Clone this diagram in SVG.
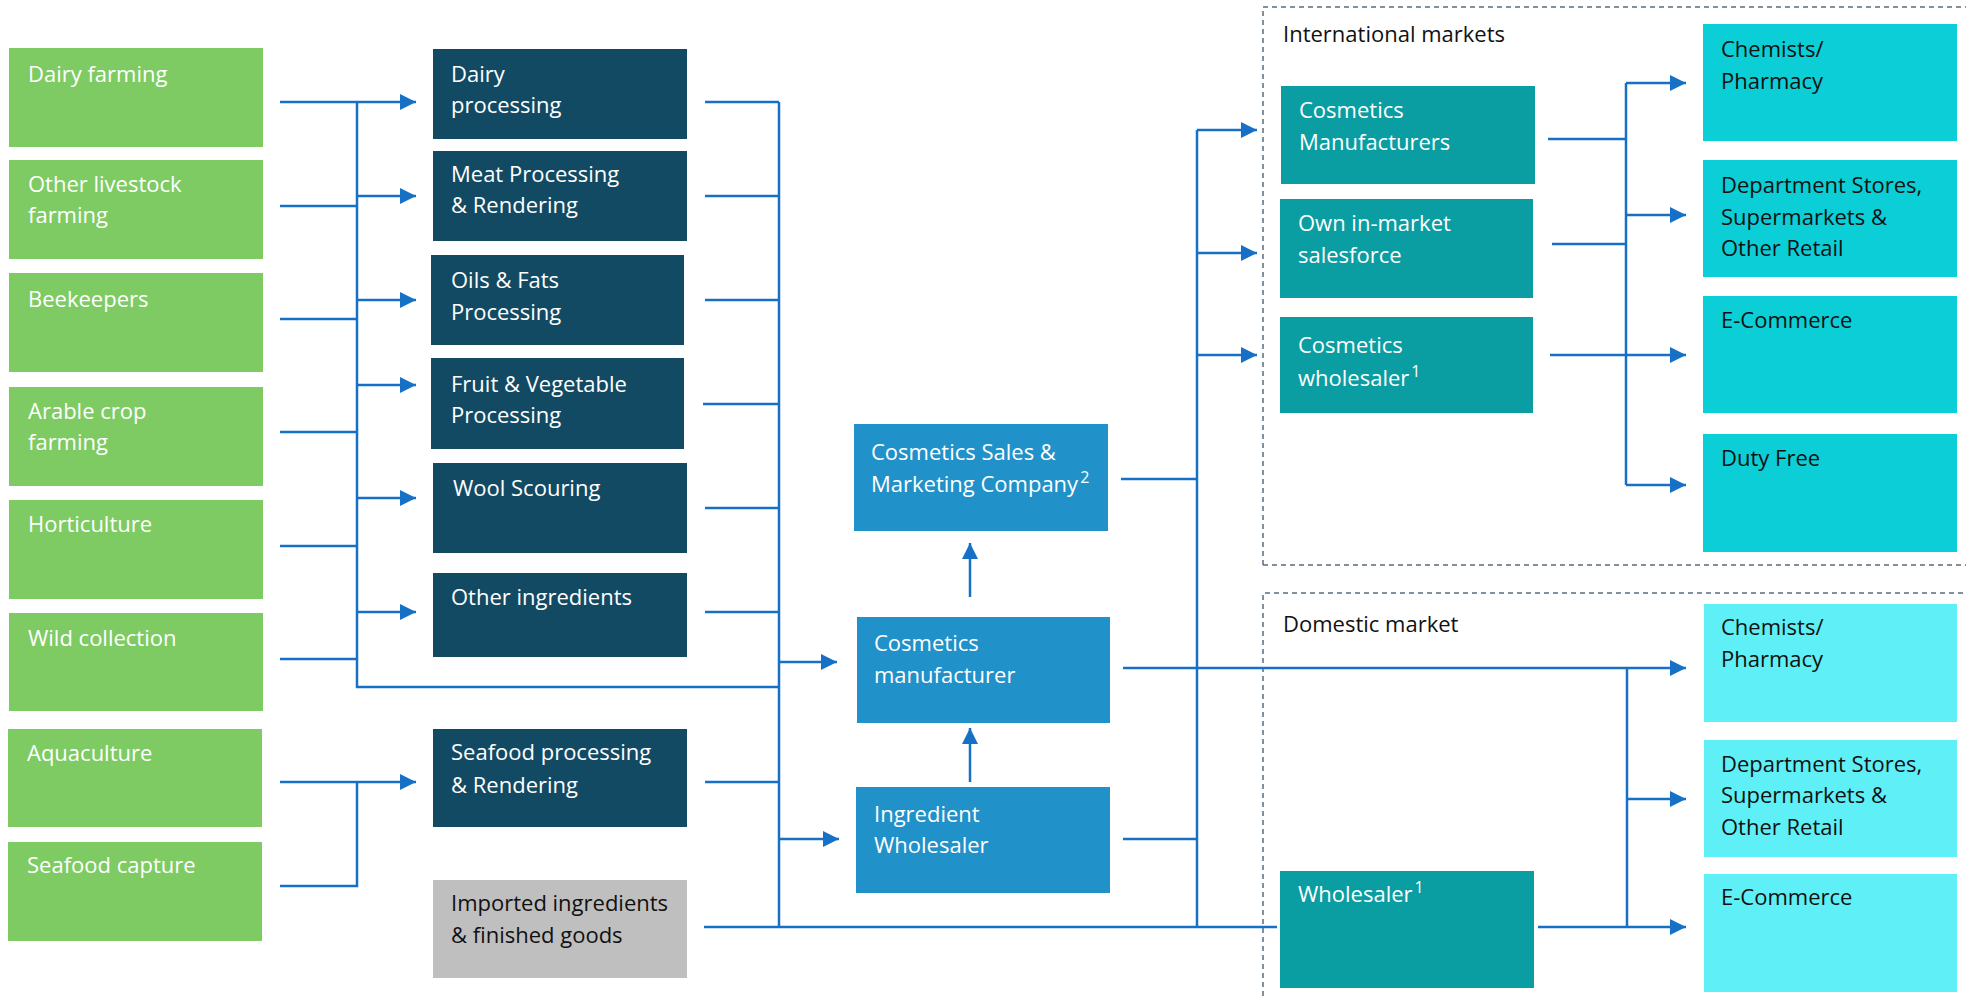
<svg xmlns="http://www.w3.org/2000/svg" width="1966" height="999" viewBox="0 0 1966 999">
<style>
.t{font-family:"Open Sans","Liberation Sans",sans-serif;font-size:22px;fill:#ffffff}
.k{fill:#111111}
.g{fill:#7ECB63}
.n{fill:#134A63}
.m{fill:#2191C9}
.tl{fill:#0A9DA2}
.c{fill:#0BCED6}
.lc{fill:#5EF0F6}
.gr{fill:#BFBFBF}
.ln{fill:none;stroke:#1570C6;stroke-width:2.5}
.da{fill:none;stroke:#5A6B7C;stroke-width:1.5;stroke-dasharray:5 4}
.sup{font-size:16px}
</style>
<defs>
<marker id="ah" markerUnits="userSpaceOnUse" markerWidth="17" markerHeight="17" refX="16" refY="8" orient="auto">
<path d="M0,0 L16,8 L0,16 Z" fill="#1570C6"/>
</marker>
</defs>
<rect width="1966" height="999" fill="#ffffff"/>

<!-- dashed market regions -->
<g id="region-international">
<path class="da" d="M1263,565 L1263,7 L1970,7 M1263,565 L1970,565"/>
<text class="t k" x="1283" y="42">International markets</text>
</g>
<g id="region-domestic">
<path class="da" d="M1263,1005 L1263,593 L1970,593"/>
<text class="t k" x="1283" y="632">Domestic market</text>
</g>

<!-- connectors -->
<g id="connectors">
<path class="ln" d="M280,102 H357 M280,206 H357 M280,319 H357 M280,432 H357 M280,546 H357 M280,659 H357 M357,102 V687 H779"/>
<path class="ln" marker-end="url(#ah)" d="M357,102 H416"/>
<path class="ln" marker-end="url(#ah)" d="M357,196 H416"/>
<path class="ln" marker-end="url(#ah)" d="M357,300 H416"/>
<path class="ln" marker-end="url(#ah)" d="M357,385 H416"/>
<path class="ln" marker-end="url(#ah)" d="M357,498 H416"/>
<path class="ln" marker-end="url(#ah)" d="M357,612 H416"/>
<path class="ln" marker-end="url(#ah)" d="M280,782 H416"/>
<path class="ln" d="M280,886 H357 V782"/>

<path class="ln" d="M705,102 H779 M705,196 H779 M705,300 H779 M703,404 H779 M705,508 H779 M705,612 H779 M705,782 H779 M779,102 V927 M704,927 H1277"/>
<path class="ln" marker-end="url(#ah)" d="M779,662 H837"/>
<path class="ln" marker-end="url(#ah)" d="M779,839 H839"/>
<path class="ln" marker-end="url(#ah)" d="M970,782 V728"/>
<path class="ln" marker-end="url(#ah)" d="M970,597 V543"/>

<path class="ln" d="M1121,479 H1197 M1123,839 H1197 M1197,130 V927"/>
<path class="ln" marker-end="url(#ah)" d="M1197,130 H1257"/>
<path class="ln" marker-end="url(#ah)" d="M1197,253 H1257"/>
<path class="ln" marker-end="url(#ah)" d="M1197,355 H1257"/>
<path class="ln" marker-end="url(#ah)" d="M1123,668 H1686"/>

<path class="ln" d="M1548,139 H1626 M1552,244 H1626 M1626,83 V485"/>
<path class="ln" marker-end="url(#ah)" d="M1626,83 H1686"/>
<path class="ln" marker-end="url(#ah)" d="M1626,215 H1686"/>
<path class="ln" marker-end="url(#ah)" d="M1550,355 H1686"/>
<path class="ln" marker-end="url(#ah)" d="M1626,485 H1686"/>

<path class="ln" d="M1627,668 V927"/>
<path class="ln" marker-end="url(#ah)" d="M1627,799 H1686"/>
<path class="ln" marker-end="url(#ah)" d="M1538,927 H1686"/>
</g>

<!-- primary producers -->
<g id="dairy-farming"><rect class="g" x="9" y="48" width="254" height="99"/><text class="t" x="28" y="82">Dairy farming</text></g>
<g id="other-livestock"><rect class="g" x="9" y="160" width="254" height="99"/><text class="t" x="28" y="192">Other livestock</text><text class="t" x="28" y="223">farming</text></g>
<g id="beekeepers"><rect class="g" x="9" y="273" width="254" height="99"/><text class="t" x="28" y="307">Beekeepers</text></g>
<g id="arable"><rect class="g" x="9" y="387" width="254" height="99"/><text class="t" x="28" y="419">Arable crop</text><text class="t" x="28" y="450">farming</text></g>
<g id="horticulture"><rect class="g" x="9" y="500" width="254" height="99"/><text class="t" x="28" y="532">Horticulture</text></g>
<g id="wild-collection"><rect class="g" x="9" y="613" width="254" height="98"/><text class="t" x="28" y="646">Wild collection</text></g>
<g id="aquaculture"><rect class="g" x="8" y="729" width="254" height="98"/><text class="t" x="27" y="761">Aquaculture</text></g>
<g id="seafood-capture"><rect class="g" x="8" y="842" width="254" height="99"/><text class="t" x="27" y="873">Seafood capture</text></g>

<!-- processing -->
<g id="dairy-processing"><rect class="n" x="433" y="49" width="254" height="90"/><text class="t" x="451" y="82">Dairy</text><text class="t" x="451" y="113">processing</text></g>
<g id="meat-processing"><rect class="n" x="433" y="151" width="254" height="90"/><text class="t" x="451" y="182">Meat Processing</text><text class="t" x="451" y="213">&amp; Rendering</text></g>
<g id="oils-fats"><rect class="n" x="431" y="255" width="253" height="90"/><text class="t" x="451" y="288">Oils &amp; Fats</text><text class="t" x="451" y="320">Processing</text></g>
<g id="fruit-veg"><rect class="n" x="431" y="358" width="253" height="91"/><text class="t" x="451" y="392">Fruit &amp; Vegetable</text><text class="t" x="451" y="423">Processing</text></g>
<g id="wool-scouring"><rect class="n" x="433" y="463" width="254" height="90"/><text class="t" x="453" y="496">Wool Scouring</text></g>
<g id="other-ingredients"><rect class="n" x="433" y="573" width="254" height="84"/><text class="t" x="451" y="605">Other ingredients</text></g>
<g id="seafood-processing"><rect class="n" x="433" y="729" width="254" height="98"/><text class="t" x="451" y="760">Seafood processing</text><text class="t" x="451" y="793">&amp; Rendering</text></g>
<g id="imported"><rect class="gr" x="433" y="880" width="254" height="98"/><text class="t k" x="451" y="911">Imported ingredients</text><text class="t k" x="451" y="943">&amp; finished goods</text></g>

<!-- middle -->
<g id="sales-marketing"><rect class="m" x="854" y="424" width="254" height="107"/><text class="t" x="871" y="460">Cosmetics Sales &amp;</text><text class="t" x="871" y="492">Marketing Company<tspan class="sup" dx="2" dy="-9">2</tspan></text></g>
<g id="cosmetics-manufacturer"><rect class="m" x="857" y="617" width="253" height="106"/><text class="t" x="874" y="651">Cosmetics</text><text class="t" x="874" y="683">manufacturer</text></g>
<g id="ingredient-wholesaler"><rect class="m" x="856" y="787" width="254" height="106"/><text class="t" x="874" y="822">Ingredient</text><text class="t" x="874" y="853">Wholesaler</text></g>

<!-- international -->
<g id="intl-cosmetics-manufacturers"><rect class="tl" x="1281" y="86" width="254" height="98"/><text class="t" x="1299" y="118">Cosmetics</text><text class="t" x="1299" y="150">Manufacturers</text></g>
<g id="intl-salesforce"><rect class="tl" x="1280" y="199" width="253" height="99"/><text class="t" x="1298" y="231">Own in-market</text><text class="t" x="1298" y="263">salesforce</text></g>
<g id="intl-wholesaler"><rect class="tl" x="1280" y="317" width="253" height="96"/><text class="t" x="1298" y="353">Cosmetics</text><text class="t" x="1298" y="386">wholesaler<tspan class="sup" dx="2" dy="-9">1</tspan></text></g>
<g id="intl-chemists"><rect class="c" x="1703" y="24" width="254" height="117"/><text class="t k" x="1721" y="57">Chemists/</text><text class="t k" x="1721" y="89">Pharmacy</text></g>
<g id="intl-department"><rect class="c" x="1703" y="160" width="254" height="117"/><text class="t k" x="1721" y="193">Department Stores,</text><text class="t k" x="1721" y="225">Supermarkets &amp;</text><text class="t k" x="1721" y="256">Other Retail</text></g>
<g id="intl-ecommerce"><rect class="c" x="1703" y="296" width="254" height="117"/><text class="t k" x="1721" y="328">E-Commerce</text></g>
<g id="intl-dutyfree"><rect class="c" x="1703" y="434" width="254" height="118"/><text class="t k" x="1721" y="466">Duty Free</text></g>

<!-- domestic -->
<g id="dom-wholesaler"><rect class="tl" x="1280" y="871" width="254" height="117"/><text class="t" x="1298" y="902">Wholesaler<tspan class="sup" dx="2" dy="-9">1</tspan></text></g>
<g id="dom-chemists"><rect class="lc" x="1704" y="604" width="253" height="118"/><text class="t k" x="1721" y="635">Chemists/</text><text class="t k" x="1721" y="667">Pharmacy</text></g>
<g id="dom-department"><rect class="lc" x="1704" y="740" width="253" height="117"/><text class="t k" x="1721" y="772">Department Stores,</text><text class="t k" x="1721" y="803">Supermarkets &amp;</text><text class="t k" x="1721" y="835">Other Retail</text></g>
<g id="dom-ecommerce"><rect class="lc" x="1704" y="874" width="253" height="118"/><text class="t k" x="1721" y="905">E-Commerce</text></g>
</svg>
